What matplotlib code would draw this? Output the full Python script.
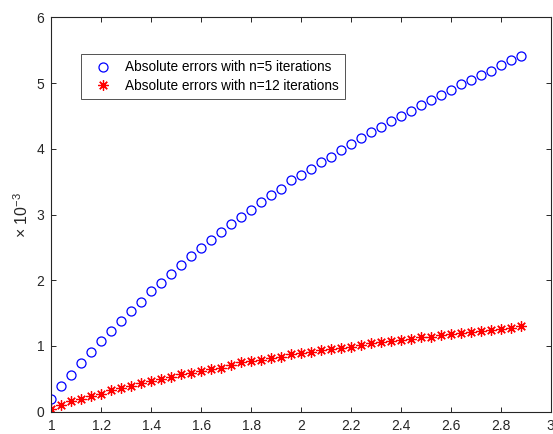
import numpy as np
import matplotlib.pyplot as plt
from matplotlib.ticker import FuncFormatter

plt.rcParams['font.family'] = ['Liberation Sans', 'DejaVu Sans']
plt.rcParams['mathtext.fontset'] = 'custom'
plt.rcParams['mathtext.rm'] = 'Liberation Sans'

# sample points (step 0.04 from 1 to 2.88)
x = np.round(np.arange(1.0, 2.9, 0.04), 2)

# absolute errors, in units of 1e-3
err_n5 = [0.20, 0.39, 0.56, 0.74, 0.91, 1.07, 1.23, 1.38, 1.53, 1.67, 1.84, 1.96,
          2.10, 2.24, 2.37, 2.49, 2.61, 2.74, 2.86, 2.96, 3.07, 3.19, 3.30, 3.39,
          3.52, 3.60, 3.69, 3.80, 3.88, 3.98, 4.07, 4.17, 4.26, 4.33, 4.42, 4.50,
          4.58, 4.67, 4.74, 4.82, 4.90, 4.99, 5.05, 5.12, 5.19, 5.28, 5.35, 5.42]
err_n12 = [0.04, 0.10, 0.16, 0.20, 0.24, 0.27, 0.33, 0.36, 0.39, 0.43, 0.47, 0.50,
           0.53, 0.57, 0.59, 0.62, 0.65, 0.67, 0.71, 0.75, 0.77, 0.78, 0.81, 0.83,
           0.88, 0.89, 0.91, 0.94, 0.95, 0.97, 0.98, 1.01, 1.04, 1.06, 1.08, 1.09,
           1.11, 1.13, 1.14, 1.17, 1.18, 1.20, 1.21, 1.23, 1.25, 1.26, 1.28, 1.31]

labels = ['Absolute errors with n=5 iterations', 'Absolute errors with n=12 iterations']
x_ticks = [1, 1.2, 1.4, 1.6, 1.8, 2, 2.2, 2.4, 2.6, 2.8, 3]
y_ticks = [0, 1, 2, 3, 4, 5, 6]

fig = plt.figure(figsize=(5.53, 4.34), dpi=100)
ax = fig.add_axes([0.093, 0.0514, 0.9027, 0.9083])

ax.plot(x, err_n5, linestyle='none', marker='o', markersize=6.5,
        markerfacecolor='none', markeredgecolor='blue', markeredgewidth=0.9,
        label=labels[0])
ax.plot(x, err_n12, linestyle='none', marker=(8, 2, 0), markersize=7.5,
        color='red', markeredgewidth=0.9, label=labels[1])

ax.set_xlim(1, 3)
ax.set_ylim(0, 6)
ax.set_xticks(x_ticks)
ax.set_yticks(y_ticks)
ax.xaxis.set_major_formatter(FuncFormatter(lambda v, p: '%g' % v))

axis_color = '#262626'
for s in ax.spines.values():
    s.set_color(axis_color)
    s.set_linewidth(0.8)
ax.tick_params(direction='in', length=3.5, width=0.7, colors=axis_color,
               labelsize=10, top=True, right=True, labelcolor='#262626')
ax.tick_params(axis='x', pad=5)
ax.tick_params(axis='y', pad=5)

ax.set_ylabel(r'$\times$ 10$^{-3}$', fontsize=11.5, color='#262626', labelpad=4)

leg = ax.legend(loc='upper left', bbox_to_anchor=(0.059, 0.907), fontsize=9.8,
                frameon=True, fancybox=False, borderpad=0.45, handletextpad=0.5,
                labelspacing=0.35, handlelength=2.3, borderaxespad=0)
leg.get_frame().set_edgecolor(axis_color)
leg.get_frame().set_linewidth(0.7)

fig.savefig('out.png', dpi=100)
